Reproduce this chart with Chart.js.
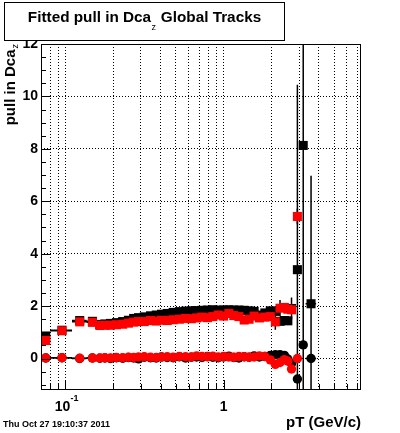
<!DOCTYPE html>
<html><head><meta charset="utf-8">
<script src="https://cdn.jsdelivr.net/npm/chart.js@4/dist/chart.umd.min.js"></script>
<style>html,body{margin:0;padding:0;background:#fff;}canvas{display:block}</style>
</head><body>
<canvas id="c" width="400" height="433"></canvas>
<script>
// ---- data ----
const binEdges = [0.07, 0.08, 0.11, 0.136, 0.16, 0.17, 0.185, 0.2, 0.22, 0.24, 0.26, 0.28, 0.3, 0.33, 0.36, 0.39, 0.42, 0.46, 0.5, 0.55, 0.6, 0.65, 0.7, 0.76, 0.82, 0.89, 0.96, 1.04, 1.12, 1.2, 1.3, 1.4, 1.5, 1.62, 1.75, 1.9, 2.05, 2.2, 2.35, 2.5, 2.6, 2.78, 3.08, 3.3, 3.85];
const blackSquares = [0.86, 1.08, 1.45, 1.42, 1.30, 1.32, 1.34, 1.37, 1.41, 1.46, 1.53, 1.56, 1.59, 1.63, 1.66, 1.69, 1.72, 1.76, 1.79, 1.81, 1.82, 1.83, 1.84, 1.85, 1.86, 1.85, 1.85, 1.86, 1.85, 1.85, 1.84, 1.82, 1.80, 1.66, 1.74, 1.82, 1.80, 1.42, 1.45, 1.44, 1.91, 3.39, 8.13, 2.09];
const blackSquaresErr = [0.03, 0.03, 0.03, 0.03, 0.03, 0.03, 0.03, 0.03, 0.03, 0.03, 0.03, 0.03, 0.03, 0.03, 0.03, 0.03, 0.03, 0.03, 0.03, 0.03, 0.03, 0.03, 0.03, 0.03, 0.03, 0.03, 0.03, 0.03, 0.03, 0.03, 0.03, 0.03, 0.03, 0.05, 0.05, 0.05, 0.08, 0.1, 0.1, 0.1, 0.42, 7.06, 20, 4.88];
const redSquares = [0.69, 1.06, 1.40, 1.38, 1.26, 1.27, 1.27, 1.29, 1.31, 1.35, 1.39, 1.41, 1.41, 1.45, 1.43, 1.46, 1.45, 1.48, 1.50, 1.53, 1.52, 1.55, 1.58, 1.56, 1.60, 1.66, 1.62, 1.72, 1.64, 1.60, 1.47, 1.50, 1.62, 1.55, 1.58, 1.60, 1.40, 1.92, 1.95, 1.88, 1.86, 5.42, null, null];
const redSquaresErr = [0.03, 0.03, 0.03, 0.03, 0.03, 0.03, 0.03, 0.03, 0.03, 0.03, 0.03, 0.03, 0.03, 0.03, 0.03, 0.03, 0.03, 0.03, 0.03, 0.03, 0.03, 0.03, 0.03, 0.03, 0.03, 0.03, 0.03, 0.03, 0.03, 0.03, 0.03, 0.03, 0.03, 0.05, 0.05, 0.05, 0.3, 0.31, 0.1, 0.1, 0.1, 0.3, null, null];
const blackCircles = [0.02, 0.03, 0.0, 0.02, 0.01, 0.02, 0.0, 0.03, 0.01, 0.04, 0.02, -0.01, 0.05, 0.03, 0.02, 0.06, 0.04, 0.03, 0.07, 0.02, 0.05, 0.06, 0.04, 0.08, 0.05, 0.03, 0.06, 0.09, 0.04, 0.02, 0.07, 0.05, 0.10, 0.06, 0.08, 0.12, 0.15, 0.15, 0.12, -0.02, -0.19, -0.78, 0.52, 0.0];
const redCircles = [0.02, 0.03, 0.01, 0.02, 0.02, 0.03, 0.02, 0.04, 0.03, 0.05, 0.04, 0.06, 0.07, 0.05, 0.04, 0.06, 0.07, 0.05, 0.08, 0.07, 0.06, 0.10, 0.08, 0.07, 0.09, 0.06, 0.08, 0.06, 0.05, 0.08, 0.07, 0.05, 0.06, 0.10, 0.08, -0.05, -0.22, -0.15, -0.04, -0.10, -0.40, 0.0, null, null];
const xGridTicks = [0.08, 0.09, 0.1, 0.2, 0.3, 0.4, 0.5, 0.6, 0.7, 0.8, 0.9, 1, 2, 3, 4, 5, 6, 7];
const xMajorTicks = [0.1, 1];
const yTicks = [0, 2, 4, 6, 8, 10, 12];
const yMinorStep = 0.5;
const xRange = [0.07, 7.4];
const yRange = [-1.2, 12];
const titleMain = "Fitted pull in Dca";
const titleSub = "z";
const titleRest = " Global Tracks";
const yTitle = "pull in Dca";
const yTitleSub = "z";
const xTitle = "pT (GeV/c)";
const dateText = "Thu Oct 27 19:10:37 2011";

// ---- helpers ----
const centers = binEdges.slice(0, -1).map((lo, i) => (lo + binEdges[i + 1]) / 2);
function pts(vals) {
  return vals.map((v, i) => v == null ? null : { x: centers[i], y: v, i }).filter(p => p);
}
const FONT = "'Liberation Sans', Arial, Helvetica, sans-serif";

const errPlugin = {
  id: 'errbars',
  beforeDatasetDraw(chart, args) {
    const ds = chart.data.datasets[args.index];
    const xs = chart.scales.x, ys = chart.scales.y, a = chart.chartArea, c = chart.ctx;
    c.save();
    c.beginPath(); c.rect(a.left, a.top, a.right - a.left, a.bottom - a.top); c.clip();
    c.strokeStyle = '#000'; c.lineWidth = 1.5;
    c.beginPath();
    ds.data.forEach(p => {
      const py = ys.getPixelForValue(p.y);
      c.moveTo(xs.getPixelForValue(binEdges[p.i]), py);
      c.lineTo(xs.getPixelForValue(binEdges[p.i + 1]), py);
      const e = ds.yErr ? ds.yErr[p.i] : 0;
      if (e) {
        const px = xs.getPixelForValue(p.x);
        c.moveTo(px, ys.getPixelForValue(p.y + e));
        c.lineTo(px, ys.getPixelForValue(p.y - e));
      }
    });
    c.stroke();
    c.restore();
  }
};

const decor = {
  id: 'decor',
  afterDraw(chart) {
    const c = chart.ctx, a = chart.chartArea, xs = chart.scales.x, ys = chart.scales.y;
    c.save();
    c.strokeStyle = '#000'; c.lineWidth = 1;
    c.strokeRect(a.left + 0.5, a.top + 0.5, a.right - a.left - 1, a.bottom - a.top - 1);
    // y ticks
    c.beginPath();
    for (let v = Math.ceil(yRange[0] / yMinorStep) * yMinorStep; v <= yRange[1] + 1e-9; v += yMinorStep) {
      const py = Math.round(ys.getPixelForValue(v)) + 0.5;
      const L = yTicks.includes(Math.round(v * 100) / 100) ? 9 : 5;
      c.moveTo(a.left, py); c.lineTo(a.left + L, py);
    }
    // x ticks
    xGridTicks.forEach(v => {
      const px = Math.round(xs.getPixelForValue(v)) + 0.5;
      const L = xMajorTicks.includes(v) ? 10 : 6;
      c.moveTo(px, a.bottom); c.lineTo(px, a.bottom - L);
    });
    c.stroke();

    c.fillStyle = '#000';
    // x tick labels
    c.textBaseline = 'alphabetic';
    c.font = 'bold 14px ' + FONT;
    const p01 = xs.getPixelForValue(xMajorTicks[0]);
    c.textAlign = 'center';
    c.fillText('10', p01 - 3, 411);
    c.font = 'bold 9px ' + FONT;
    c.textAlign = 'left';
    c.fillText('-1', p01 + 5, 401);
    c.font = 'bold 14px ' + FONT;
    c.textAlign = 'center';
    c.fillText('1', xs.getPixelForValue(xMajorTicks[1]), 411);

    // x title
    c.font = 'bold 15px ' + FONT;
    c.textAlign = 'right';
    c.fillText(xTitle, a.right, 427);

    // y title (rotated)
    c.save();
    c.translate(15, 44);
    c.rotate(-Math.PI / 2);
    c.font = '9px ' + FONT;
    const wz = c.measureText(yTitleSub).width;
    c.textAlign = 'right';
    c.fillText(yTitleSub, 0, 3);
    c.font = 'bold 15px ' + FONT;
    c.fillText(yTitle, -wz - 1, 0);
    c.restore();

    // title box
    c.fillStyle = '#fff';
    c.fillRect(4, 2, 280, 38);
    c.strokeRect(4.5, 2.5, 280, 38);
    c.fillStyle = '#000';
    c.font = 'bold 15.3px ' + FONT;
    const w1 = c.measureText(titleMain).width, w3 = c.measureText(titleRest).width;
    c.font = '9px ' + FONT;
    const w2 = c.measureText(titleSub).width + 1;
    let tx = 144.5 - (w1 + w2 + w3) / 2;
    c.textAlign = 'left';
    c.font = 'bold 15.3px ' + FONT;
    c.fillText(titleMain, tx, 22);
    c.font = '9px ' + FONT;
    c.fillText(titleSub, tx + w1 + 0.5, 30);
    c.font = 'bold 15.3px ' + FONT;
    c.fillText(titleRest, tx + w1 + w2, 22);

    // date
    c.font = 'bold 9px ' + FONT;
    c.textAlign = 'left';
    c.fillText(dateText, 3, 427);
    c.restore();
  }
};

const grid = { color: '#000', lineWidth: 1, drawTicks: false };
const border = { display: false, dash: [1, 2] };

new Chart(document.getElementById('c'), {
  type: 'scatter',
  data: {
    datasets: [
      { label: 'black squares', data: pts(blackSquares), yErr: blackSquaresErr, pointStyle: 'rect', pointRadius: 6.4, pointBorderWidth: 0, backgroundColor: '#000', borderColor: '#000', order: 4 },
      { label: 'red squares', data: pts(redSquares), yErr: redSquaresErr, pointStyle: 'rect', pointRadius: 6.4, pointBorderWidth: 0, backgroundColor: '#ff0000', borderColor: '#ff0000', order: 3 },
      { label: 'black circles', data: pts(blackCircles), pointStyle: 'circle', pointRadius: 4.7, pointBorderWidth: 0, backgroundColor: '#000', borderColor: '#000', order: 2 },
      { label: 'red circles', data: pts(redCircles), pointStyle: 'circle', pointRadius: 4.7, pointBorderWidth: 0, backgroundColor: '#ff0000', borderColor: '#ff0000', order: 1 }
    ]
  },
  options: {
    responsive: false,
    animation: false,
    events: [],
    layout: { padding: { top: 44, right: 39, bottom: 43, left: 0 } },
    plugins: { legend: { display: false }, tooltip: { enabled: false }, title: { display: false } },
    scales: {
      x: {
        type: 'logarithmic', min: xRange[0], max: xRange[1],
        afterBuildTicks: s => { s.ticks = xGridTicks.map(v => ({ value: v })); },
        afterFit: s => { s.height = 0; },
        ticks: { display: false },
        grid: grid,
        border: border
      },
      y: {
        type: 'linear', min: yRange[0], max: yRange[1],
        afterBuildTicks: s => { s.ticks = yTicks.map(v => ({ value: v })); },
        afterFit: s => { s.width = 41; },
        ticks: { color: '#000', padding: 3, font: { family: FONT, size: 14, weight: 'bold' } },
        grid: grid,
        border: border
      }
    }
  },
  plugins: [errPlugin, decor]
});
</script>
</body></html>
